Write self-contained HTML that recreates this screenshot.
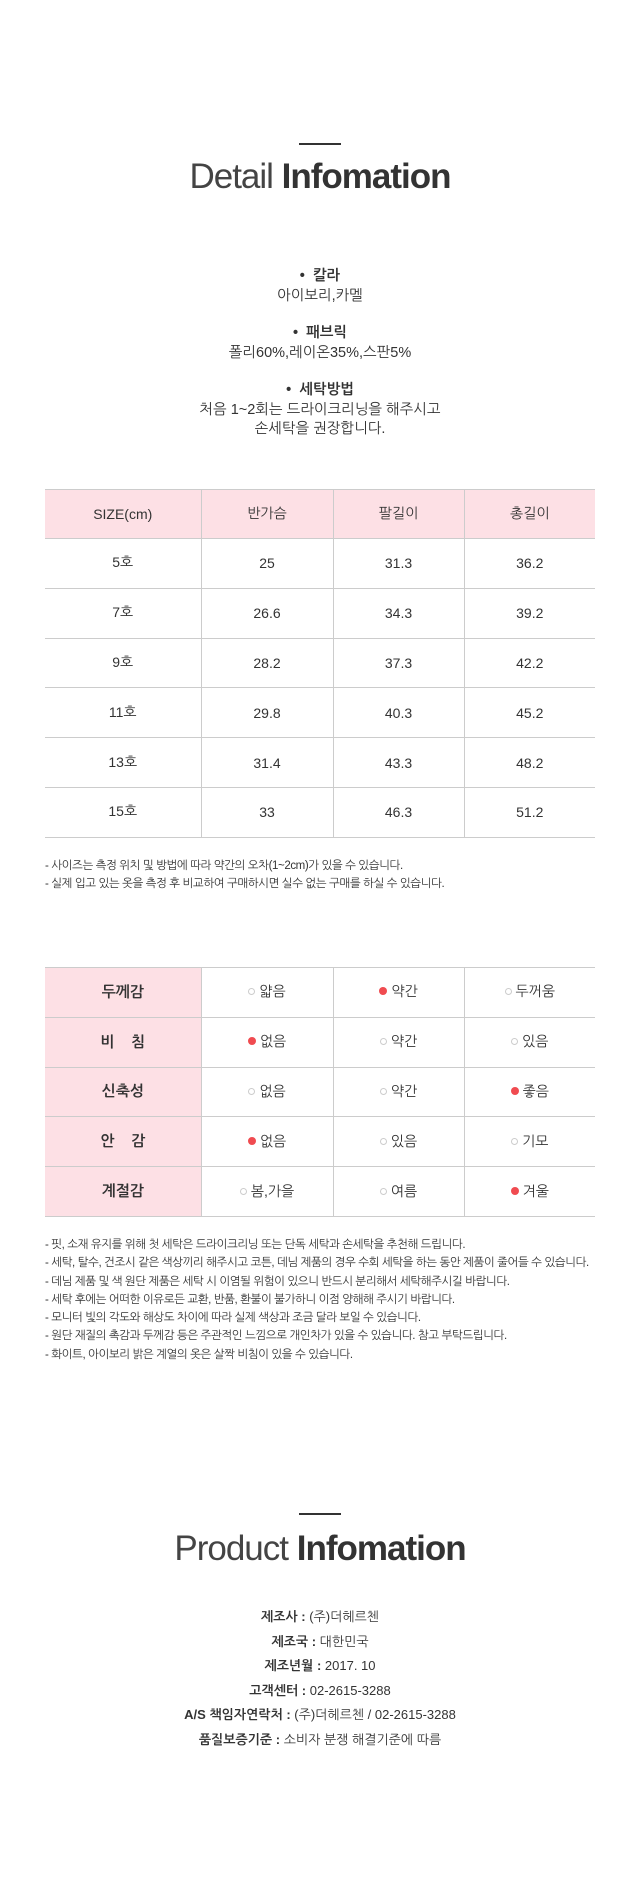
<!DOCTYPE html>
<html><head><meta charset="utf-8"><style>
*{margin:0;padding:0;box-sizing:border-box}
body{width:640px;height:1900px;background:#fff;position:relative;font-family:"Liberation Sans","NanumGothic","Noto Sans CJK KR",sans-serif;color:#333;overflow:hidden}
.a{position:absolute;left:0;width:640px;text-align:center}
.line{position:absolute;height:2px;background:#333}
.title{font-size:35px;color:#444;letter-spacing:-1px}
.title b{font-weight:bold;color:#333}
.t{position:absolute;border-collapse:collapse;left:45px;width:550px;table-layout:fixed}
.t td{border-top:1px solid #ccc;border-bottom:1px solid #ccc;border-left:1px solid #ccc;text-align:center;font-size:14px;color:#333;height:49.8px;padding:0}
.t td:first-child{border-left:none}
.t tr.h td{background:#fde0e5;height:49px}
.t2 td:first-child{background:#fde0e5;font-weight:bold;font-size:15px}
.n{position:absolute;left:45px;font-size:11.5px;color:#333;line-height:18.3px;letter-spacing:-0.4px}
.o{display:inline-block;width:7px;height:7px;border-radius:50%;border:1px solid #ccc;margin-right:4px;vertical-align:1px}
.r{border:none;background:#f04b50;width:8px;height:8px}
.inf{font-size:13px;line-height:24.6px;color:#333}
.inf b{font-weight:bold}
</style></head><body>
<div class="line" style="left:299px;top:143px;width:42px"></div>
<div class="a title" style="top:157px">Detail <b>Infomation</b></div>
<div class="a" style="top:267px;font-size:14.5px;line-height:19.5px">
<div><b>•&nbsp;&nbsp;칼라</b></div><div>아이보리,카멜</div>
<div style="margin-top:18px"><b>•&nbsp;&nbsp;패브릭</b></div><div>폴리60%,레이온35%,스판5%</div>
<div style="margin-top:18px"><b>•&nbsp;&nbsp;세탁방법</b></div><div>처음 1~2회는 드라이크리닝을 해주시고</div><div>손세탁을 권장합니다.</div>
</div>
<table class="t" style="top:489px">
<colgroup><col style="width:156px"><col style="width:132px"><col style="width:131px"><col style="width:131px"></colgroup>
<tr class="h"><td>SIZE(cm)</td><td>반가슴</td><td>팔길이</td><td>총길이</td></tr>
<tr><td>5호</td><td>25</td><td>31.3</td><td>36.2</td></tr>
<tr><td>7호</td><td>26.6</td><td>34.3</td><td>39.2</td></tr>
<tr><td>9호</td><td>28.2</td><td>37.3</td><td>42.2</td></tr>
<tr><td>11호</td><td>29.8</td><td>40.3</td><td>45.2</td></tr>
<tr><td>13호</td><td>31.4</td><td>43.3</td><td>48.2</td></tr>
<tr><td>15호</td><td>33</td><td>46.3</td><td>51.2</td></tr>
</table>
<div class="n" style="top:857px">- 사이즈는 측정 위치 및 방법에 따라 약간의 오차(1~2cm)가 있을 수 있습니다.<br>- 실제 입고 있는 옷을 측정 후 비교하여 구매하시면 실수 없는 구매를 하실 수 있습니다.</div>
<table class="t t2" style="top:967px">
<colgroup><col style="width:156px"><col style="width:132px"><col style="width:131px"><col style="width:131px"></colgroup>
<tr><td>두께감</td><td><i class="o"></i>얇음</td><td><i class="o r"></i>약간</td><td><i class="o"></i>두꺼움</td></tr>
<tr><td>비&nbsp;&nbsp;&nbsp;&nbsp;침</td><td><i class="o r"></i>없음</td><td><i class="o"></i>약간</td><td><i class="o"></i>있음</td></tr>
<tr><td>신축성</td><td><i class="o"></i>없음</td><td><i class="o"></i>약간</td><td><i class="o r"></i>좋음</td></tr>
<tr><td>안&nbsp;&nbsp;&nbsp;&nbsp;감</td><td><i class="o r"></i>없음</td><td><i class="o"></i>있음</td><td><i class="o"></i>기모</td></tr>
<tr><td>계절감</td><td><i class="o"></i>봄,가을</td><td><i class="o"></i>여름</td><td><i class="o r"></i>겨울</td></tr>
</table>
<div class="n" style="top:1236px">- 핏, 소재 유지를 위해 첫 세탁은 드라이크리닝 또는 단독 세탁과 손세탁을 추천해 드립니다.<br>- 세탁, 탈수, 건조시 같은 색상끼리 해주시고 코튼, 데님 제품의 경우 수회 세탁을 하는 동안 제품이 줄어들 수 있습니다.<br>- 데님 제품 및 색 원단 제품은 세탁 시 이염될 위험이 있으니 반드시 분리해서 세탁해주시길 바랍니다.<br>- 세탁 후에는 어떠한 이유로든 교환, 반품, 환불이 불가하니 이점 양해해 주시기 바랍니다.<br>- 모니터 빛의 각도와 해상도 차이에 따라 실제 색상과 조금 달라 보일 수 있습니다.<br>- 원단 재질의 촉감과 두께감 등은 주관적인 느낌으로 개인차가 있을 수 있습니다. 참고 부탁드립니다.<br>- 화이트, 아이보리 밝은 계열의 옷은 살짝 비침이 있을 수 있습니다.</div>
<div class="line" style="left:299px;top:1513px;width:42px"></div>
<div class="a title" style="top:1529px">Product <b>Infomation</b></div>
<div class="a inf" style="top:1605px">
<div><b>제조사 :</b> (주)더헤르첸</div>
<div><b>제조국 :</b> 대한민국</div>
<div><b>제조년월 :</b> 2017. 10</div>
<div><b>고객센터 :</b> 02-2615-3288</div>
<div><b>A/S 책임자연락처 :</b> (주)더헤르첸 / 02-2615-3288</div>
<div><b>품질보증기준 :</b> 소비자 분쟁 해결기준에 따름</div>
</div>
</body></html>
